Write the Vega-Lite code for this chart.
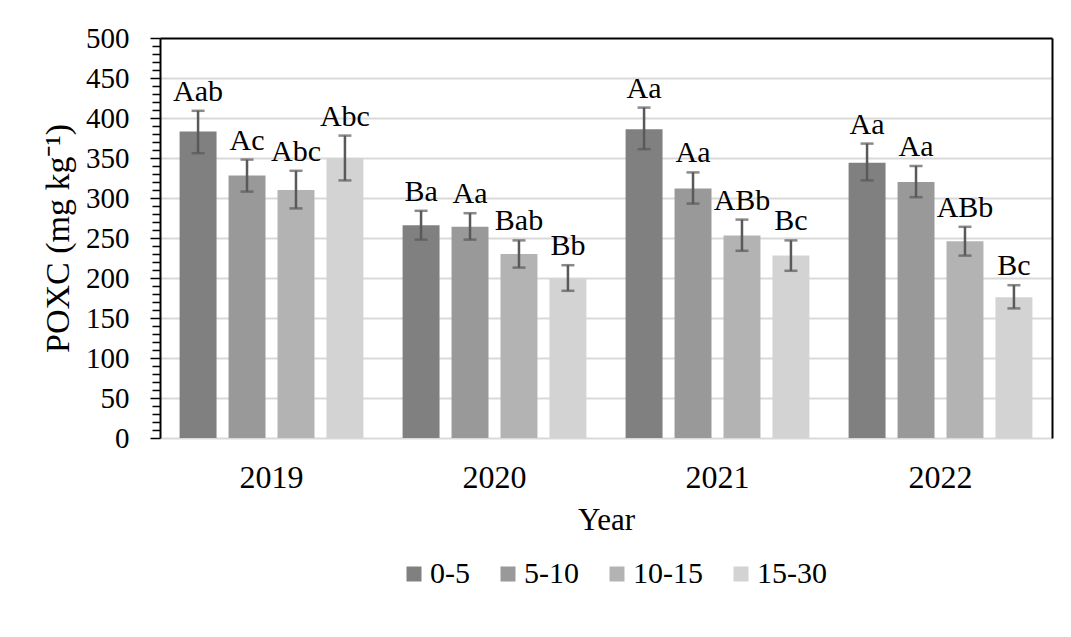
{
  "$schema": "https://vega.github.io/schema/vega-lite/v6.json",
  "width": 892,
  "height": 400,
  "autosize": {"type": "none"},
  "padding": {"left": 160, "top": 38, "right": 19, "bottom": 199},
  "background": "white",
  "config": {
    "font": "Liberation Serif",
    "view": {"stroke": null},
    "legend": {"labelFont": "Liberation Serif"},
    "axis": {"labelFont": "Liberation Serif", "titleFont": "Liberation Serif"}
  },
  "data": {
    "values": [
      {"year": "2019", "depth": "0-5", "mean": 383, "lo": 356, "hi": 409, "label": "Aab"},
      {"year": "2019", "depth": "5-10", "mean": 328, "lo": 308, "hi": 348, "label": "Ac"},
      {"year": "2019", "depth": "10-15", "mean": 310, "lo": 287, "hi": 334, "label": "Abc"},
      {"year": "2019", "depth": "15-30", "mean": 350, "lo": 322, "hi": 378, "label": "Abc"},
      {"year": "2020", "depth": "0-5", "mean": 266, "lo": 248, "hi": 284, "label": "Ba"},
      {"year": "2020", "depth": "5-10", "mean": 264, "lo": 248, "hi": 281, "label": "Aa"},
      {"year": "2020", "depth": "10-15", "mean": 230, "lo": 213, "hi": 247, "label": "Bab"},
      {"year": "2020", "depth": "15-30", "mean": 199, "lo": 184, "hi": 216, "label": "Bb"},
      {"year": "2021", "depth": "0-5", "mean": 386, "lo": 361, "hi": 413, "label": "Aa"},
      {"year": "2021", "depth": "5-10", "mean": 312, "lo": 293, "hi": 332, "label": "Aa"},
      {"year": "2021", "depth": "10-15", "mean": 253, "lo": 234, "hi": 273, "label": "ABb"},
      {"year": "2021", "depth": "15-30", "mean": 228, "lo": 209, "hi": 247, "label": "Bc"},
      {"year": "2022", "depth": "0-5", "mean": 344, "lo": 322, "hi": 368, "label": "Aa"},
      {"year": "2022", "depth": "5-10", "mean": 320, "lo": 301, "hi": 340, "label": "Aa"},
      {"year": "2022", "depth": "10-15", "mean": 246, "lo": 228, "hi": 264, "label": "ABb"},
      {"year": "2022", "depth": "15-30", "mean": 176, "lo": 162, "hi": 191, "label": "Bc"}
    ]
  },
  "resolve": {"axis": {"y": "independent"}},
  "encoding": {
    "x": {
      "field": "year",
      "type": "nominal",
      "scale": {"paddingInner": 0, "paddingOuter": 0},
      "axis": {
        "title": "Year",
        "labelAngle": 0,
        "ticks": false,
        "grid": false,
        "domainColor": "#d9d9d9",
        "domainWidth": 2,
        "labelFont": "Liberation Serif",
        "labelFontSize": 32,
        "labelColor": "black",
        "labelPadding": 24,
        "titleFont": "Liberation Serif",
        "titleFontSize": 31,
        "titleFontWeight": "normal",
        "titleColor": "black",
        "titlePadding": 12
      }
    },
    "xOffset": {
      "field": "depth",
      "type": "nominal",
      "sort": ["0-5", "5-10", "10-15", "15-30"],
      "scale": {"paddingInner": 0.245, "paddingOuter": 0.4}
    }
  },
  "layer": [
    {
      "mark": {"type": "bar"},
      "encoding": {
        "y": {
          "field": "mean",
          "type": "quantitative",
          "scale": {"domain": [0, 500], "nice": false},
          "axis": {
            "title": "POXC (mg kg⁻¹)",
            "values": [0, 10, 20, 30, 40, 50, 60, 70, 80, 90, 100, 110, 120, 130, 140, 150, 160, 170, 180, 190, 200, 210, 220, 230, 240, 250, 260, 270, 280, 290, 300, 310, 320, 330, 340, 350, 360, 370, 380, 390, 400, 410, 420, 430, 440, 450, 460, 470, 480, 490, 500],
            "labelExpr": "datum.value % 50 === 0 ? datum.label : ''",
            "labelOverlap": false,
            "tickSize": {"condition": {"test": "datum.value % 50 === 0", "value": 10}, "value": 8},
            "tickColor": "black",
            "tickWidth": 1.5,
            "domainColor": "black",
            "domainWidth": 2,
            "grid": true,
            "gridColor": {"condition": {"test": "datum.value === 500", "value": "black"}, "value": "#d9d9d9"},
            "gridWidth": 2,
            "gridOpacity": {"condition": {"test": "datum.value % 50 === 0 && datum.value > 0", "value": 1}, "value": 0},
            "labelFont": "Liberation Serif",
            "labelFontSize": 29,
            "labelColor": "black",
            "labelPadding": 21,
            "titleFont": "Liberation Serif",
            "titleFontSize": 34,
            "titleFontWeight": "normal",
            "titleColor": "black",
            "titlePadding": 10
          }
        },
        "color": {
          "field": "depth",
          "type": "nominal",
          "sort": ["0-5", "5-10", "10-15", "15-30"],
          "scale": {"domain": ["0-5", "5-10", "10-15", "15-30"], "range": ["#808080", "#999999", "#b3b3b3", "#d3d3d3"]},
          "legend": {
            "title": null,
            "orient": "none",
            "direction": "horizontal",
            "legendX": 239,
            "legendY": 521,
            "symbolType": "square",
            "symbolSize": 225,
            "symbolStrokeWidth": 0,
            "symbolOpacity": 1,
            "labelFont": "Liberation Serif",
            "labelFontSize": 30,
            "labelColor": "black",
            "labelOffset": 1,
            "columnPadding": 23,
            "padding": 0
          }
        }
      }
    },
    {
      "mark": {"type": "rule", "color": "#595959", "strokeWidth": 2.5},
      "encoding": {
        "y": {
          "field": "lo",
          "type": "quantitative",
          "axis": {"orient": "right", "title": null, "labels": false, "ticks": false, "grid": false, "domainColor": "black", "domainWidth": 2}
        },
        "y2": {"field": "hi"}
      }
    },
    {
      "mark": {"type": "tick", "color": "#595959", "thickness": 2.5, "size": 13, "orient": "horizontal"},
      "encoding": {
        "y": {"field": "lo", "type": "quantitative", "axis": null}
      }
    },
    {
      "mark": {"type": "tick", "color": "#595959", "thickness": 2.5, "size": 13, "orient": "horizontal"},
      "encoding": {
        "y": {"field": "hi", "type": "quantitative", "axis": null}
      }
    },
    {
      "mark": {"type": "text", "baseline": "alphabetic", "align": "center", "dy": -10, "font": "Liberation Serif", "fontSize": 30, "color": "black"},
      "encoding": {
        "y": {"field": "hi", "type": "quantitative", "axis": null},
        "text": {"field": "label"}
      }
    }
  ]
}
